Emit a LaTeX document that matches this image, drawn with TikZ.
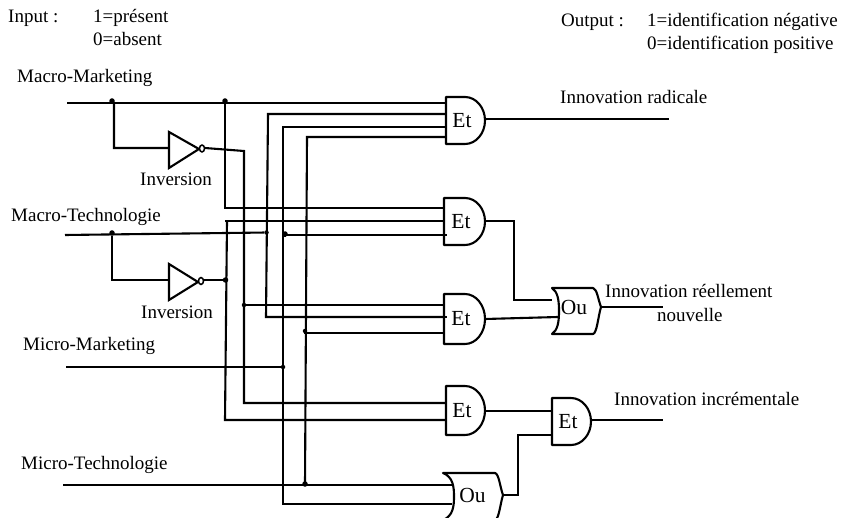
\documentclass[tikz,border=0pt]{standalone}
\usepackage{fontspec}
\setmainfont{Liberation Serif}
\usetikzlibrary{shapes.geometric}
\newcommand{\andshape}[6]{% name, left, top, bottom, right, label
  \pgfmathsetmacro{\cy}{(#3+#4)/2}\pgfmathsetmacro{\mx}{#5-20}\pgfmathsetmacro{\hh}{(#4-#3)/2*0.55}
  \draw[gate] (#2,#3) -- (\mx,#3) .. controls (\mx+11,#3) and (#5,\cy-\hh) .. (#5,\cy) .. controls (#5,\cy+\hh) and (\mx+11,#4) .. (\mx,#4) -- (#2,#4) -- cycle;
  \node[gatetext] (#1) at ({(#2+#5)/2-3.5},\cy) {#6};
  \coordinate (#1out) at (#5,\cy);
}
\newcommand{\orshape}[8]{% name, left corner, concave x, top, bottom, right tip, tip y, label
  \pgfmathsetmacro{\cy}{(#4+#5)/2}
  \draw[gate] (#2,#4) .. controls ({#3-1},{#4+4}) and (#3,{\cy-10}) .. (#3,\cy) .. controls (#3,{\cy+10}) and ({#3-1},{#5-4}) .. (#2,#5)
    -- ({#6-8},#5) .. controls ({#6-4},{#5-1}) and ({#6-3},{#7+10}) .. (#6,#7) .. controls ({#6-3},{#7-8}) and ({#6-4},{#4+1}) .. ({#6-8},#4) -- cycle;
  \node[gatetext] (#1) at ({(#3+#6)/2-6},{#7}) {#8};
  \coordinate (#1out) at (#6,#7);
}
\tikzset{
  wire/.style={line width=2.1pt,line join=miter},
  gate/.style={line width=2.1pt,line join=round,fill=white},
  gatetext/.style={inner sep=0pt,font=\fontsize{21.5}{24}\selectfont},
  lbl/.style={inner sep=0pt,anchor=base west,font=\fontsize{19}{22}\selectfont},
  junction/.style={circle,fill=black,inner sep=0pt,minimum size=5.5pt},
  invtri/.style={line width=2.1pt,line join=miter,fill=white},
  bubble/.style={ellipse,draw,line width=1.5pt,inner sep=0pt,minimum width=5pt,minimum height=7pt,fill=white}
}
\begin{document}
\begin{tikzpicture}[x=1pt,y=-1pt]
\useasboundingbox (0,0) rectangle (842,518);
% free wire ends
\coordinate (mmStart) at (67,103);
\coordinate (mtStart) at (65,235);
\coordinate (umStart) at (66,367);
\coordinate (utStart) at (63,485);
% junctions
\node[junction] (j1) at (112,101) {};
\node[junction] (j2) at (225,101) {};
\node[junction] (j3) at (112,233) {};
\node[junction,minimum size=4.5pt] (j4) at (266.5,232.5) {};
\node[junction] (j5) at (285,234) {};
\node[junction] (j6) at (225.5,280) {};
\node[junction,minimum size=4.5pt] (j7) at (244,305) {};
\node[junction,minimum size=4.5pt] (j8) at (305,331) {};
\node[junction,minimum size=4.5pt] (j9) at (283,367) {};
\node[junction] (j10) at (305,484) {};
% gate pins
\coordinate (a1) at (446,103);
\coordinate (a2) at (446,114);
\coordinate (a3) at (446,127);
\coordinate (a4) at (446,137);
\coordinate (b1) at (444,208);
\coordinate (b2) at (444,221);
\coordinate (b3) at (447,235);
\coordinate (c1) at (444,305);
\coordinate (c2) at (447,317);
\coordinate (c3) at (444,333);
\coordinate (d1) at (446,403);
\coordinate (d2) at (446,420);
\coordinate (f1) at (452,485);
\coordinate (f2) at (452,504);
% wires: inputs
\draw[wire] (mmStart) -- (a1);
\draw[wire] (j1) -- (114,103) |- (169,148);
\draw[wire] (j2) |- (b1);
\draw[wire] (mtStart) -- (j4);
\draw[wire] (j5) -- (285,235) -- (b3);
\draw[wire] (j3) |- (169,280);
\draw[wire] (225,221) -- (b2);
\draw[wire] (227,221) -- (225,420) -- (d2);
\draw[wire] (205,148) -- (244,151) -- (244,403) -- (d1);
\draw[wire] (j7) -- (c1);
\draw[wire] (a2) -- (268,114) -- (266,317) -- (c2);
\draw[wire] (a3) -- (283,127) -- (283,504) -- (f2);
\draw[wire] (a4) -- (307,137) -- (305,484);
\draw[wire] (j8) -- (305,333) -- (c3);
\draw[wire] (umStart) -- (j9);
\draw[wire] (utStart) -- (f1);
\draw[wire] (204,280) -- (j6);
% inverters
\draw[invtri] (169,132) -- (199,149) -- (169,168) -- cycle;
\node[bubble] (inv1) at (202,148.5) {};
\draw[invtri] (169,264) -- (198,282) -- (169,300) -- cycle;
\node[bubble] (inv2) at (201,281) {};
% gates
\andshape{e1}{446}{97}{144}{485}{Et}
\andshape{e2}{444}{198}{245}{485}{Et}
\andshape{e3}{444}{294}{344}{485}{Et}
\andshape{e4}{446}{386}{435}{485}{Et}
\andshape{e5}{552}{398}{445}{591}{Et}
\orshape{o1}{552}{559}{288}{334}{601}{307}{Ou}
\orshape{o2}{443}{454}{473}{520}{503}{495}{Ou}
% pin stubs that overlap the gate outline
\draw[wire] (444,235) -- (b3);
\draw[wire] (444,317) -- (c2);
% outputs
\coordinate (x1) at (669,119);
\coordinate (x2) at (663,307);
\coordinate (x3) at (663,420);
\coordinate (e2h) at (514,221);
\coordinate (o1a) at (552,300);
\coordinate (o1b) at (558,317);
\coordinate (e5a) at (552,411);
\coordinate (e5b) at (552,435);
\draw[wire] (e1out |- x1) -- (x1);
\draw[wire] (e2out |- e2h) -- (e2h) |- (o1a);
\draw[wire] (e3out) -- (o1b);
\draw[wire] (e4out |- e5a) -- (e5a);
\draw[wire] (o2out) -- (518,495) |- (e5b);
\draw[wire] (e5out |- x3) -- (x3);
\draw[wire] (o1out) -- (x2);
% labels
\node[lbl] (t1) at (8,23) {Input :};
\node[lbl] (t2) at (93,23) {1=présent};
\node[lbl] (t3) at (93,46) {0=absent};
\node[lbl] (t4) at (561,27) {Output :};
\node[lbl] (t5) at (647,27) {1=identification négative};
\node[lbl] (t6) at (647,50) {0=identification positive};
\node[lbl] (t7) at (17,83) {Macro-Marketing};
\node[lbl] (t8) at (11,222) {Macro-Technologie};
\node[lbl] (t9) at (23,350) {Micro-Marketing};
\node[lbl] (t10) at (21,469) {Micro-Technologie};
\node[lbl] (t11) at (140,186) {Inversion};
\node[lbl] (t12) at (141,318) {Inversion};
\node[lbl] (t13) at (560,104) {Innovation radicale};
\node[lbl] (t14) at (605,297) {Innovation réellement};
\node[lbl] (t15) at (657,321) {nouvelle};
\node[lbl] (t16) at (614,405) {Innovation incrémentale};
\end{tikzpicture}
\end{document}
